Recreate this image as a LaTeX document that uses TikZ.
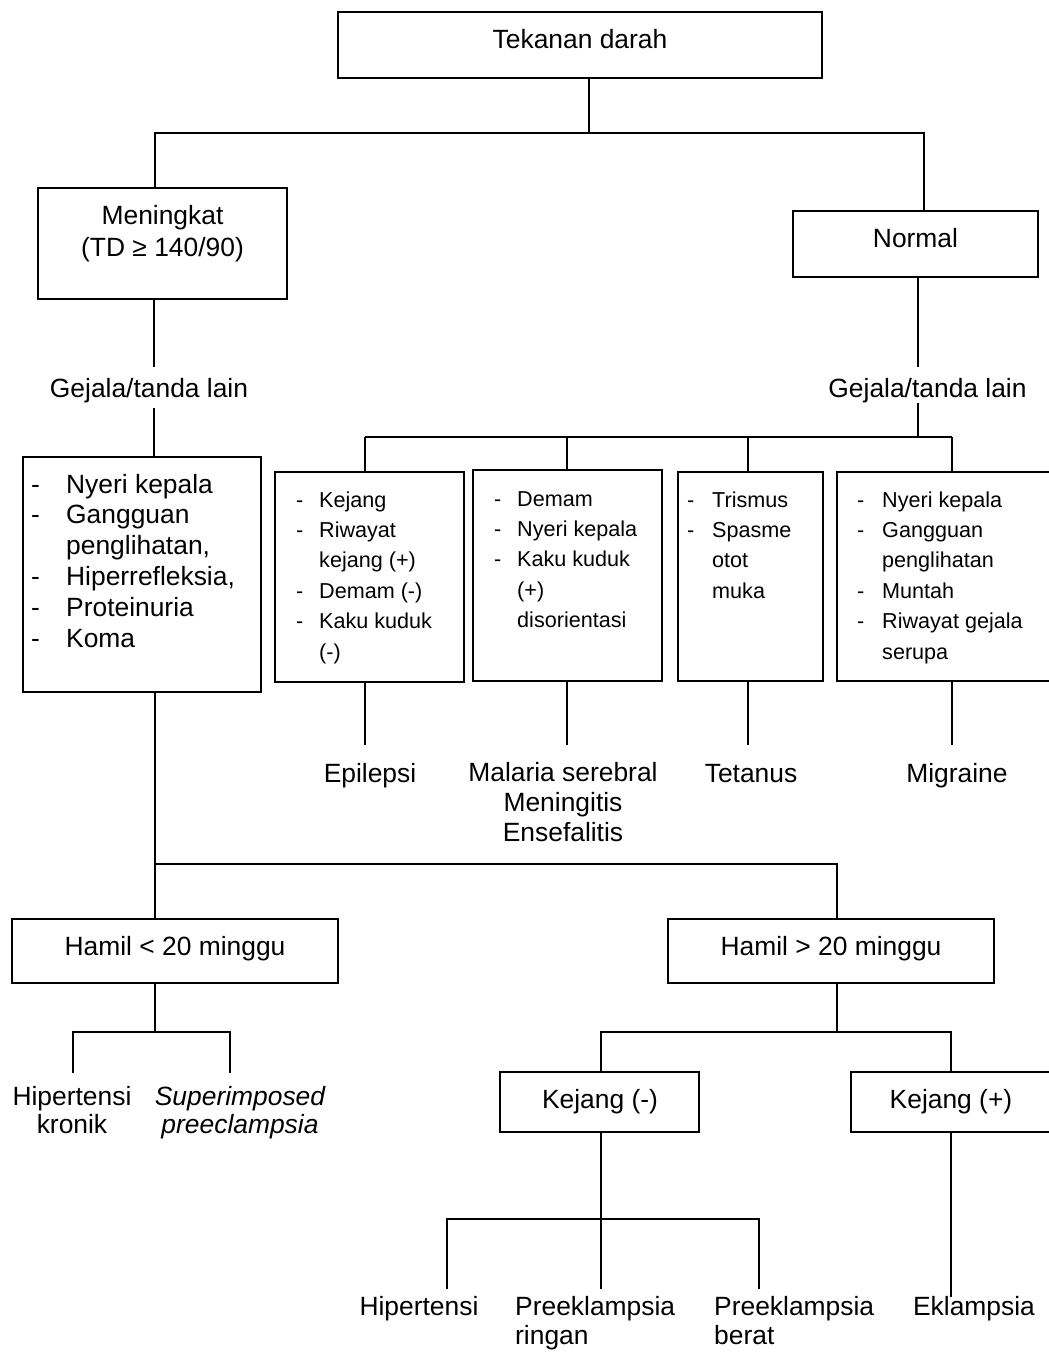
\documentclass[tikz,border=0pt]{standalone}
\usepackage{fontspec}
\setmainfont{Liberation Sans}
% list lines: a dash in a fixed-width slot, or the same indent for a wrapped line
\newcommand\itemline[2]{\makebox[#1][l]{-}#2}
\newcommand\contline[2]{\hspace*{#1}#2}
\begin{document}
\begin{tikzpicture}[x=1pt,y=-1pt,
  box/.style={draw, line width=2pt, inner sep=0pt},
  wire/.style={line width=1.3pt},
  bigtxt/.style={font=\fontsize{26.4}{30.8}\selectfont, inner sep=0pt},
  smalltxt/.style={font=\fontsize{21.6}{30.4}\selectfont, inner sep=0pt}]
\useasboundingbox (0,0) rectangle (1049,1361);

% ---------- boxes ----------
\node[box, minimum width=484pt, minimum height=66pt]  (tek) at (580,45) {};
\node[box, minimum width=249pt, minimum height=111pt] (men) at (162.5,243.5) {};
\node[box, minimum width=245pt, minimum height=66pt]  (nor) at (915.5,244) {};
\node[box, minimum width=238pt, minimum height=235pt] (lst) at (142,574.5) {};
\node[box, minimum width=189pt, minimum height=210pt] (b1) at (369.5,577) {};
\node[box, minimum width=189pt, minimum height=211pt] (b2) at (567.5,575.5) {};
\node[box, minimum width=145pt, minimum height=209pt] (b3) at (750.5,576.5) {};
\node[box, minimum width=233pt, minimum height=209pt] (b4) at (953.5,576.5) {};
\node[box, minimum width=326pt, minimum height=64pt]  (hl) at (175,951) {};
\node[box, minimum width=326pt, minimum height=64pt]  (hg) at (831,951) {};
\node[box, minimum width=199pt, minimum height=60pt]  (kn) at (599.5,1102) {};
\node[box, minimum width=200pt, minimum height=60pt]  (kp) at (951,1102) {};

% ---------- texts ----------
\node[bigtxt, anchor=base] (tekT) at (580,48) {Tekanan darah};
\node[bigtxt, font=\fontsize{26.4}{32}\selectfont, anchor=base] (menT) at (162.5,224)
  {\begin{tabular}[t]{@{}c@{}}Meningkat\\(TD ≥ 140/90)\end{tabular}};
\node[bigtxt, anchor=base] (norT) at (915.5,247) {Normal};
\node[bigtxt, anchor=base] (gL) at (149,397) {Gejala/tanda lain};
\node[bigtxt, anchor=base] (gR) at (927.5,397) {Gejala/tanda lain};

\node[bigtxt, anchor=base west] (lstT) at (31,493)
  {\begin{tabular}[t]{@{}l@{}}
   \itemline{35pt}{Nyeri kepala}\\
   \itemline{35pt}{Gangguan}\\
   \contline{35pt}{penglihatan,}\\
   \itemline{35pt}{Hiperrefleksia,}\\
   \itemline{35pt}{Proteinuria}\\
   \itemline{35pt}{Koma}
   \end{tabular}};

\node[smalltxt, anchor=base west] (b1T) at (296,507)
  {\begin{tabular}[t]{@{}l@{}}
   \itemline{23pt}{Kejang}\\
   \itemline{23pt}{Riwayat}\\
   \contline{23pt}{kejang (+)}\\
   \itemline{23pt}{Demam (-)}\\
   \itemline{23pt}{Kaku kuduk}\\
   \contline{23pt}{(-)}
   \end{tabular}};
\node[smalltxt, anchor=base west] (b2T) at (494,506)
  {\begin{tabular}[t]{@{}l@{}}
   \itemline{23pt}{Demam}\\
   \itemline{23pt}{Nyeri kepala}\\
   \itemline{23pt}{Kaku kuduk}\\
   \contline{23pt}{(+)}\\
   \contline{23pt}{disorientasi}
   \end{tabular}};
\node[smalltxt, anchor=base west] (b3T) at (687,507)
  {\begin{tabular}[t]{@{}l@{}}
   \itemline{25pt}{Trismus}\\
   \itemline{25pt}{Spasme}\\
   \contline{25pt}{otot}\\
   \contline{25pt}{muka}
   \end{tabular}};
\node[smalltxt, anchor=base west] (b4T) at (857,507)
  {\begin{tabular}[t]{@{}l@{}}
   \itemline{25pt}{Nyeri kepala}\\
   \itemline{25pt}{Gangguan}\\
   \contline{25pt}{penglihatan}\\
   \itemline{25pt}{Muntah}\\
   \itemline{25pt}{Riwayat gejala}\\
   \contline{25pt}{serupa}
   \end{tabular}};

\node[bigtxt, anchor=base] (epi) at (370,782) {Epilepsi};
\node[bigtxt, font=\fontsize{26.4}{30}\selectfont, anchor=base] (mal) at (563,781)
  {\begin{tabular}[t]{@{}c@{}}Malaria serebral\\Meningitis\\Ensefalitis\end{tabular}};
\node[bigtxt, anchor=base] (tet) at (751,782) {Tetanus};
\node[bigtxt, anchor=base] (mig) at (957,782) {Migraine};

\node[bigtxt, anchor=base] (hlT) at (175,955) {Hamil < 20 minggu};
\node[bigtxt, anchor=base] (hgT) at (831,955) {Hamil > 20 minggu};

\node[bigtxt, font=\fontsize{26.4}{28}\selectfont, anchor=base] (hkr) at (72,1105)
  {\begin{tabular}[t]{@{}c@{}}Hipertensi\\kronik\end{tabular}};
\node[bigtxt, font=\fontsize{26.4}{28}\selectfont\itshape, anchor=base] (sup) at (240,1105)
  {\begin{tabular}[t]{@{}c@{}}Superimposed\\preeclampsia\end{tabular}};

\node[bigtxt, anchor=base] (knT) at (600,1108) {Kejang (-)};
\node[bigtxt, anchor=base] (kpT) at (951,1108) {Kejang (+)};

\node[bigtxt, anchor=base] (hip) at (419,1315) {Hipertensi};
\node[bigtxt, font=\fontsize{26.4}{29}\selectfont, anchor=base west] (pr) at (515,1315)
  {\begin{tabular}[t]{@{}l@{}}Preeklampsia\\ringan\end{tabular}};
\node[bigtxt, font=\fontsize{26.4}{29}\selectfont, anchor=base west] (pb) at (714,1315)
  {\begin{tabular}[t]{@{}l@{}}Preeklampsia\\berat\end{tabular}};
\node[bigtxt, anchor=base] (ekl) at (974,1315) {Eklampsia};

% ---------- connectors ----------
% blood pressure split
\coordinate (jT) at (589,133);
\coordinate (jL) at (155,133);
\coordinate (jR) at (924,133);
\draw[wire] (tek.south -| jT) -- (jT);
\draw[wire] (men.north -| jL) -- (jL) -- (jR) -- (nor.north -| jR);

% raised branch, through its label
\coordinate (gLa) at (154,367);
\coordinate (gLb) at (154,408);
\draw[wire] (men.south -| gLa) -- (gLa);
\draw[wire] (gLb) -- (lst.north -| gLb);

% normal branch, through its label, onto the four symptom boxes
\coordinate (gRa) at (918,367);
\coordinate (gRb) at (918,403);
\coordinate (gRc) at (918,437);
\draw[wire] (nor.south -| gRa) -- (gRa);
\draw[wire] (gRb) -- (gRc);
\coordinate (s1) at (365,437);
\coordinate (s2) at (567,437);
\coordinate (s3) at (748,437);
\coordinate (s4) at (952,437);
\draw[wire] (s1) -- (s4);
\coordinate (d1) at (365,745);
\coordinate (d2) at (567,745);
\coordinate (d3) at (748,745);
\coordinate (d4) at (952,745);
\foreach \k in {1,...,4}{
  \draw[wire] (s\k) -- (b\k.north -| s\k);
  \draw[wire] (b\k.south -| d\k) -- (d\k);
}

% gestational age split
\coordinate (m1) at (155,864);
\coordinate (m2) at (837,864);
\draw[wire] (lst.south -| m1) -- (hl.north -| m1);
\draw[wire] (m1) -- (m2) -- (hg.north -| m2);

% under 20 weeks
\coordinate (f0) at (155,1032);
\coordinate (f1) at (73,1032);
\coordinate (f2) at (230,1032);
\coordinate (f1e) at (73,1073);
\coordinate (f2e) at (230,1073);
\draw[wire] (hl.south -| f0) -- (f0);
\draw[wire] (f1e) -- (f1) -- (f2) -- (f2e);

% over 20 weeks
\coordinate (g0) at (837,1032);
\coordinate (g1) at (601,1032);
\coordinate (g2) at (951,1032);
\draw[wire] (hg.south -| g0) -- (g0);
\draw[wire] (kn.north -| g1) -- (g1) -- (g2) -- (kp.north -| g2);

% no seizure
\coordinate (h0e) at (601,1289);
\coordinate (h1) at (447,1219);
\coordinate (h2) at (759,1219);
\coordinate (h1e) at (447,1289);
\coordinate (h2e) at (759,1289);
\draw[wire] (kn.south -| h0e) -- (h0e);
\draw[wire] (h1e) -- (h1) -- (h2) -- (h2e);

% seizure
\coordinate (i1) at (951,1297);
\draw[wire] (kp.south -| i1) -- (i1);
\end{tikzpicture}
\end{document}
